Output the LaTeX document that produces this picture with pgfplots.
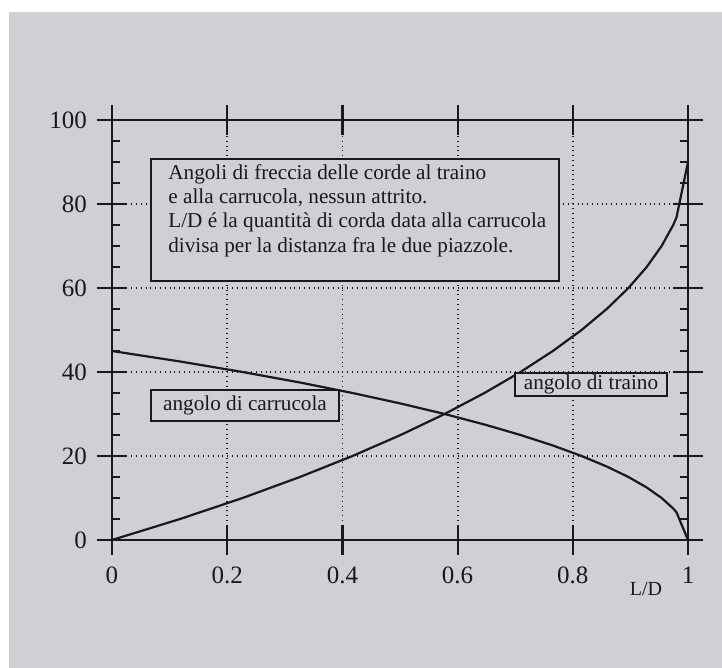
\documentclass[border=0pt]{standalone}
\usepackage{fontspec}
\setmainfont{Liberation Serif}
\usepackage{pgfplots}
\pgfplotsset{compat=1.18}
\definecolor{bg}{RGB}{206,208,212}
\definecolor{ink}{RGB}{25,25,25}

\pgfplotstableread{
x y
0 0
0.1182 5
0.2267 10
0.3262 15
0.4175 20
0.5011 25
0.5774 30
0.6466 35
0.7092 40
0.7654 45
0.8152 50
0.8589 55
0.8966 60
0.9283 65
0.9542 70
0.9743 75
0.98 76.8
1 90
}\traino

\pgfplotstableread{
x y
0 45
0.1182 42.5
0.2267 40
0.3262 37.5
0.4175 35
0.5011 32.5
0.5774 30
0.6466 27.5
0.7092 25
0.7654 22.5
0.8152 20
0.8589 17.5
0.8966 15
0.9283 12.5
0.9542 10
0.9743 7.5
0.98 6.6
1 0
}\carrucola

\begin{document}
\begin{tikzpicture}
\fill[white] (-56pt,-64pt) rectangle (305pt,270pt);
\fill[bg] (-51.5pt,-64pt) rectangle (305pt,264pt);
\begin{axis}[
  at={(0pt,0pt)}, anchor=south west,
  width=288pt, height=210pt, scale only axis,
  xmin=0, xmax=1, ymin=0, ymax=100,
  xtick={0,0.2,0.4,0.6,0.8,1},
  xticklabels={0,0.2,0.4,0.6,0.8,1},
  ytick={0,20,40,60,80,100},
  axis line style={line width=1.3pt, ink},
  tick align=center, major tick length=15pt,
  tick style={line width=1.1pt, ink},
  grid=major,
  major grid style={dotted, line width=0.9pt, ink},
  extra y ticks={5,10,15,25,30,35,45,50,55,65,70,75,85,90,95},
  extra y tick labels={},
  extra tick style={grid=none, tick align=inside, major tick length=4pt},
  ticklabel style={font=\fontsize{12.5}{14}\selectfont, text=ink},
  xticklabel style={yshift=-2.5pt},
  yticklabel style={xshift=-1.5pt},
  /pgf/number format/assume math mode=true,
  clip=false,
]
\addplot[ink, line width=1.1pt] table[x=x, y=y] {\traino};
\addplot[ink, line width=1.1pt] table[x=x, y=y] {\carrucola};

\draw[ink, line width=1.1pt, fill=bg] (axis cs:0.0677,90.71) rectangle (axis cs:0.776,61.67);
\node[anchor=base west, inner sep=0pt, text=ink, font=\fontsize{10.6}{12}\selectfont] at (axis cs:0.0972,85.95) {Angoli di freccia delle corde al traino};
\node[anchor=base west, inner sep=0pt, text=ink, font=\fontsize{10.6}{12}\selectfont] at (axis cs:0.0972,80.0) {e alla carrucola, nessun attrito.};
\node[anchor=base west, inner sep=0pt, text=ink, font=\fontsize{10.6}{12}\selectfont] at (axis cs:0.0972,74.29) {L/D é la quantità di corda data alla carrucola};
\node[anchor=base west, inner sep=0pt, text=ink, font=\fontsize{10.6}{12}\selectfont] at (axis cs:0.0972,68.57) {divisa per la distanza fra le due piazzole.};

\node[draw=ink, line width=1.1pt, fill=bg, text=ink, inner sep=0pt, minimum width=94pt, minimum height=15.5pt, font=\fontsize{10.6}{12}\selectfont] at (axis cs:0.231,32.0) {angolo di carrucola};
\node[draw=ink, line width=1.1pt, fill=bg, text=ink, inner sep=0pt, minimum width=76pt, minimum height=11.7pt, font=\fontsize{10.6}{12}\selectfont] at (axis cs:0.8316,37.06) {angolo di traino};

\node[anchor=base, inner sep=0pt, text=ink, font=\fontsize{10}{11}\selectfont] at (axis cs:0.927,0) [yshift=-27.5pt] {L/D};
\end{axis}
\pgfresetboundingbox
\useasboundingbox (-56pt,-64pt) rectangle (305pt,270pt);
\end{tikzpicture}
\end{document}
